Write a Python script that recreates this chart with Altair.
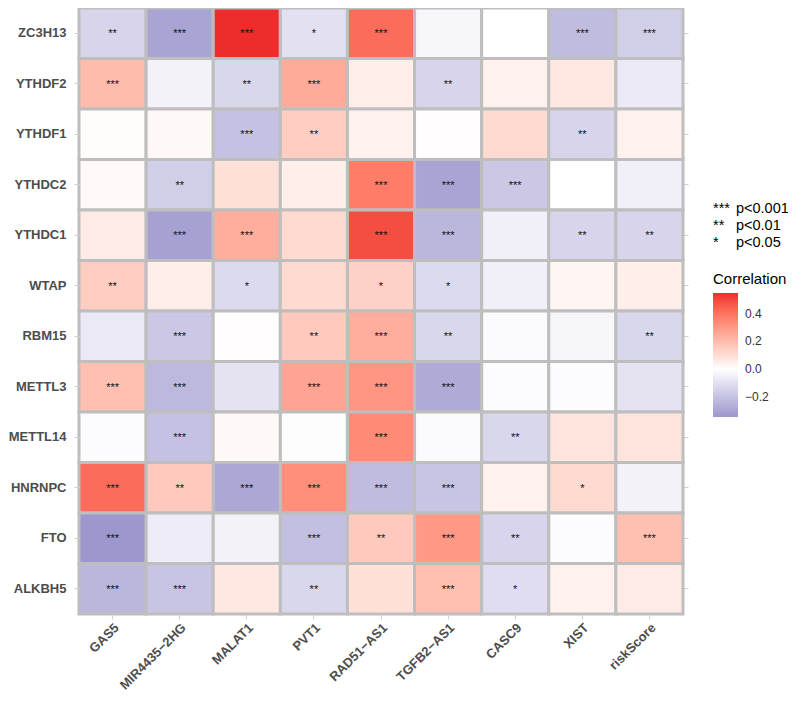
import altair as alt
import pandas as pd

cols = ["GAS5", "MIR4435\u22122HG", "MALAT1", "PVT1", "RAD51\u2212AS1",
        "TGFB2\u2212AS1", "CASC9", "XIST", "riskScore"]
rows = ["ZC3H13", "YTHDF2", "YTHDF1", "YTHDC2", "YTHDC1", "WTAP",
        "RBM15", "METTL3", "METTL14", "HNRNPC", "FTO", "ALKBH5"]

# correlation values per row (columns in `cols` order)
r_ZC3H13 = [-0.14, -0.30, 0.55, -0.10, 0.42, -0.03, 0.00, -0.22, -0.16]
r_YTHDF2 = [0.20, -0.04, -0.13, 0.25, 0.05, -0.14, 0.04, 0.07, -0.07]
r_YTHDF1 = [0.01, 0.02, -0.20, 0.15, 0.04, 0.005, 0.11, -0.14, 0.04]
r_YTHDC2 = [0.015, -0.16, 0.09, 0.05, 0.38, -0.30, -0.18, 0.00, -0.05]
r_YTHDC1 = [0.06, -0.31, 0.24, 0.11, 0.49, -0.24, -0.05, -0.14, -0.14]
r_WTAP = [0.15, 0.05, -0.12, 0.11, 0.14, -0.12, -0.05, 0.03, 0.05]
r_RBM15 = [-0.07, -0.18, 0.005, 0.16, 0.24, -0.13, -0.015, -0.03, -0.13]
r_METTL3 = [0.19, -0.23, -0.09, 0.27, 0.31, -0.28, -0.01, -0.01, -0.09]
r_METTL14 = [-0.01, -0.20, 0.02, -0.005, 0.34, -0.015, -0.13, 0.08, 0.08]
r_HNRNPC = [0.42, 0.16, -0.29, 0.33, -0.22, -0.19, 0.04, 0.11, -0.04]
r_FTO = [-0.345, -0.06, -0.04, -0.21, 0.16, 0.30, -0.14, -0.01, 0.19]
r_ALKBH5 = [-0.24, -0.19, 0.07, -0.13, 0.09, 0.19, -0.11, 0.04, 0.06]

# significance marks per row
s_ZC3H13 = ["**", "***", "***", "*", "***", "", "", "***", "***"]
s_YTHDF2 = ["***", "", "**", "***", "", "**", "", "", ""]
s_YTHDF1 = ["", "", "***", "**", "", "", "", "**", ""]
s_YTHDC2 = ["", "**", "", "", "***", "***", "***", "", ""]
s_YTHDC1 = ["", "***", "***", "", "***", "***", "", "**", "**"]
s_WTAP = ["**", "", "*", "", "*", "*", "", "", ""]
s_RBM15 = ["", "***", "", "**", "***", "**", "", "", "**"]
s_METTL3 = ["***", "***", "", "***", "***", "***", "", "", ""]
s_METTL14 = ["", "***", "", "", "***", "", "**", "", ""]
s_HNRNPC = ["***", "**", "***", "***", "***", "***", "", "*", ""]
s_FTO = ["***", "", "", "***", "**", "***", "**", "", "***"]
s_ALKBH5 = ["***", "***", "", "**", "", "***", "*", "", ""]

# significance key
key_stars = ["***", "**", "\u00a0*"]
key_labels = ["p<0.001", "p<0.01", "p<0.05"]

values = [r_ZC3H13, r_YTHDF2, r_YTHDF1, r_YTHDC2, r_YTHDC1, r_WTAP,
          r_RBM15, r_METTL3, r_METTL14, r_HNRNPC, r_FTO, r_ALKBH5]
stars = [s_ZC3H13, s_YTHDF2, s_YTHDF1, s_YTHDC2, s_YTHDC1, s_WTAP,
         s_RBM15, s_METTL3, s_METTL14, s_HNRNPC, s_FTO, s_ALKBH5]

records = []
for gi, g in enumerate(rows):
    for ci, c in enumerate(cols):
        records.append({"gene": g, "lnc": c, "r": values[gi][ci], "sig": stars[gi][ci]})
df = pd.DataFrame(records)

FONT = "Liberation Sans"

color_scale = alt.Scale(domain=[-0.345, 0, 0.55],
                        range=["#9C97CD", "#FFFFFF", "#EE2C2C"],
                        interpolate="lab")

x_bottom = alt.X("lnc:N", sort=cols, title=None,
                 axis=alt.Axis(orient="bottom", labelAngle=315, labelAlign="right",
                               labelBaseline="top", labelPadding=2))
y_left = alt.Y("gene:N", sort=rows, title=None,
               axis=alt.Axis(orient="left", labelPadding=8))

rect = alt.Chart(df).mark_rect(stroke="#BEBEBE", strokeWidth=3).encode(
    x=x_bottom,
    y=y_left,
    color=alt.Color("r:Q", scale=color_scale,
                    legend=alt.Legend(title="Correlation", values=[-0.2, 0.0, 0.2, 0.4],
                                      format=".1f", orient="none",
                                      legendX=634, legendY=264,
                                      gradientLength=124, gradientThickness=25,
                                      titleFont=FONT, titleFontSize=15,
                                      titleFontWeight="normal", titleColor="#000000",
                                      titlePadding=6,
                                      labelFont=FONT, labelFontSize=12,
                                      labelColor="#333333", labelOffset=7,
                                      gradientStrokeWidth=0)),
)

text = alt.Chart(df).mark_text(font=FONT, fontSize=11, color="#111111",
                               baseline="alphabetic", dy=4).encode(
    x=alt.X("lnc:N", sort=cols, title=None,
            axis=alt.Axis(orient="top", labels=False, ticks=True, domain=False)),
    y=alt.Y("gene:N", sort=rows, title=None,
            axis=alt.Axis(orient="right", labels=False, ticks=True, domain=False)),
    text="sig:N",
)

key_layers = []
for i in range(3):
    kdf = pd.DataFrame({"s": [key_stars[i]], "p": [key_labels[i]]})
    ky = 201 + 17 * i
    key_layers.append(
        alt.Chart(kdf).mark_text(font=FONT, fontSize=14.5, align="left",
                                 baseline="middle", color="#000000").encode(
            x=alt.value(634), y=alt.value(ky), text="s:N"))
    key_layers.append(
        alt.Chart(kdf).mark_text(font=FONT, fontSize=14.5, align="left",
                                 baseline="middle", color="#000000").encode(
            x=alt.value(657), y=alt.value(ky), text="p:N"))

chart = alt.layer(rect, text, *key_layers).resolve_axis(
    x="independent", y="independent"
).properties(
    width=604, height=606,
    padding={"left": 71, "top": 0, "right": 105, "bottom": 80},
    autosize=alt.AutoSizeParams(type="none"),
).configure_view(stroke=None).configure_axis(
    grid=False, domain=False, tickColor="#D0D0D0", tickSize=5, tickWidth=1,
    labelFont=FONT, labelFontSize=13, labelFontWeight="bold", labelColor="#4D4D4D",
)

chart.save("out.html", embed_options={"renderer": "svg", "actions": False})
